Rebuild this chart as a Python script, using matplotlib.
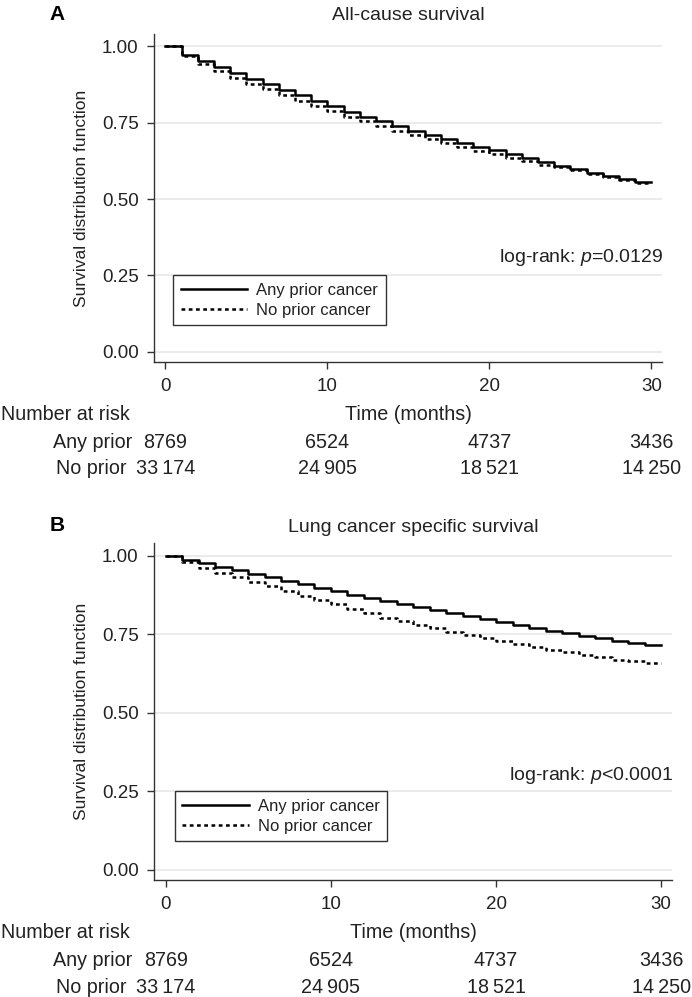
import matplotlib
matplotlib.use("Agg")
import matplotlib.pyplot as plt
from matplotlib.transforms import blended_transform_factory

plt.rcParams['font.family'] = ['Liberation Sans', 'DejaVu Sans']
plt.rcParams['mathtext.fontset'] = 'custom'
plt.rcParams['mathtext.rm'] = 'Liberation Sans'
plt.rcParams['mathtext.it'] = 'Liberation Sans:italic'

# ---------------- data ----------------
months = list(range(0, 30))
end_month = 30

a_any = [1.000, 0.972, 0.951, 0.931, 0.912, 0.893, 0.877, 0.858, 0.841, 0.821,
         0.804, 0.786, 0.770, 0.755, 0.739, 0.724, 0.711, 0.697, 0.683, 0.670,
         0.659, 0.646, 0.633, 0.620, 0.609, 0.597, 0.585, 0.575, 0.565, 0.555]
a_none = [1.000, 0.969, 0.942, 0.918, 0.897, 0.877, 0.861, 0.839, 0.821, 0.804,
          0.787, 0.770, 0.755, 0.739, 0.724, 0.710, 0.696, 0.682, 0.670, 0.658,
          0.647, 0.635, 0.623, 0.613, 0.605, 0.594, 0.583, 0.572, 0.563, 0.552]

b_any = [1.000, 0.987, 0.977, 0.965, 0.953, 0.942, 0.931, 0.920, 0.909, 0.898,
         0.887, 0.876, 0.866, 0.856, 0.846, 0.836, 0.826, 0.816, 0.806, 0.797,
         0.788, 0.779, 0.770, 0.761, 0.752, 0.744, 0.736, 0.728, 0.722, 0.716]
b_none = [1.000, 0.980, 0.961, 0.945, 0.931, 0.916, 0.902, 0.887, 0.872, 0.859,
          0.845, 0.831, 0.816, 0.802, 0.791, 0.779, 0.768, 0.757, 0.747, 0.737,
          0.727, 0.717, 0.708, 0.700, 0.692, 0.683, 0.676, 0.669, 0.663, 0.657]

series_labels = ["Any prior cancer", "No prior cancer"]
row_labels = ["Any prior", "No prior"]
risk_times = [0, 10, 20, 30]
risk_any = ["8769", "6524", "4737", "3436"]
risk_none = ["33\u2009174", "24\u2009905", "18\u2009521", "14\u2009250"]

titles = ["All-cause survival", "Lung cancer specific survival"]
panel_letters = ["A", "B"]
pvals = ["log-rank: $\\mathit{p}$=0.0129", "log-rank: $\\mathit{p}$<0.0001"]
yticks = [0.0, 0.25, 0.5, 0.75, 1.0]
xticks = [0, 10, 20, 30]

# ---------------- layout ----------------
W, H = 692, 997
fig = plt.figure(figsize=(W / 100, H / 100), dpi=100)

FS_TICK = 13.5
FS_TABLE = 14.2
FS_TITLE = 14
FS_PV = 14
FS_LEG = 12
FS_YLAB = 12.5
SPINE = '#333333'
TXT = '#222222'


def add_ax(left, top, right, bottom):
    return fig.add_axes([left / W, 1 - bottom / H, (right - left) / W, (bottom - top) / H])


panels = [
    dict(box=(154, 34, 662, 362), any=a_any, none=a_none, title_y=15, letter_y=15,
         leg=(173, 275.5), pv_y=257),
    dict(box=(154, 543, 672, 880), any=b_any, none=b_none, title_y=527, letter_y=525,
         leg=(174.5, 791), pv_y=775.5),
]
row_label_x = [132, 127]

for i, p in enumerate(panels):
    l, t, r, b = p['box']
    ax = add_ax(l, t, r, b)
    xs = months + [end_month]
    ax.step(xs, p['any'] + [p['any'][-1]], where='post', color='black', lw=1.8,
            label=series_labels[0])
    ax.step(xs, p['none'] + [p['none'][-1]], where='post', color='black', lw=1.8,
            linestyle=(0, (1.5, 1.4)), label=series_labels[1])
    ax.set_xlim(-0.7, 30.65)
    ax.set_ylim(-0.033, 1.04)
    ax.set_yticks(yticks)
    ax.set_yticklabels([f"{v:.2f}" for v in yticks])
    ax.set_xticks(xticks)
    for y in yticks:
        ax.axhline(y, color='#e6e6e6', lw=1.1, zorder=0)
    for s in ['top', 'right']:
        ax.spines[s].set_visible(False)
    for s in ['left', 'bottom']:
        ax.spines[s].set_color(SPINE)
        ax.spines[s].set_linewidth(1.0)
    ax.tick_params(axis='both', colors=SPINE, labelcolor=TXT, labelsize=FS_TICK,
                   length=5, width=1.0)
    ax.tick_params(axis='y', pad=6)
    ax.tick_params(axis='x', pad=6.5)
    ax.set_ylabel("Survival distribution function", fontsize=FS_YLAB, color=TXT)
    ax.yaxis.set_label_coords((89 - l) / (r - l), 0.5)

    # legend
    lx, ly = p['leg']
    leg = ax.legend(loc='upper left',
                    bbox_to_anchor=((lx - l) / (r - l), (b - ly) / (b - t)),
                    borderaxespad=0, frameon=True, fancybox=False, fontsize=FS_LEG,
                    handlelength=4.0, handletextpad=0.55, labelspacing=0.3,
                    borderpad=0.45)
    leg.get_frame().set_edgecolor('black')
    leg.get_frame().set_linewidth(1.0)
    for txt in leg.get_texts():
        txt.set_color(TXT)

    # p-value
    ax.text(1.003, (b - p['pv_y']) / (b - t), pvals[i], transform=ax.transAxes,
            ha='right', va='center', fontsize=FS_PV, color=TXT)

    # title and panel letter
    fig.text(((l + r) / 2) / W, 1 - p['title_y'] / H, titles[i], ha='center',
             va='center', fontsize=FS_TITLE, color=TXT)
    fig.text(57 / W, 1 - p['letter_y'] / H, panel_letters[i], ha='center',
             va='center', fontsize=15, fontweight='bold', color='black')

    # number at risk table
    tr = blended_transform_factory(ax.transData, fig.transFigure)
    row_y = [b + 52, b + 80, b + 107]
    fig.text(1 / W, 1 - row_y[0] / H, "Number at risk", ha='left', va='center',
             fontsize=FS_TABLE, color=TXT)
    ax.text(0.5, 1 - row_y[0] / H, "Time (months)",
            transform=blended_transform_factory(ax.transAxes, fig.transFigure),
            ha='center', va='center', fontsize=FS_TABLE, color=TXT)
    for rl, rx, vals, yy in zip(row_labels, row_label_x, [risk_any, risk_none], row_y[1:]):
        fig.text(rx / W, 1 - yy / H, rl, ha='right', va='center', fontsize=FS_TABLE,
                 color=TXT)
        for tm, v in zip(risk_times, vals):
            ax.text(tm, 1 - yy / H, v, transform=tr, ha='center', va='center',
                    fontsize=FS_TABLE, color=TXT, clip_on=False)

fig.savefig("out.png", dpi=100, facecolor='white')
